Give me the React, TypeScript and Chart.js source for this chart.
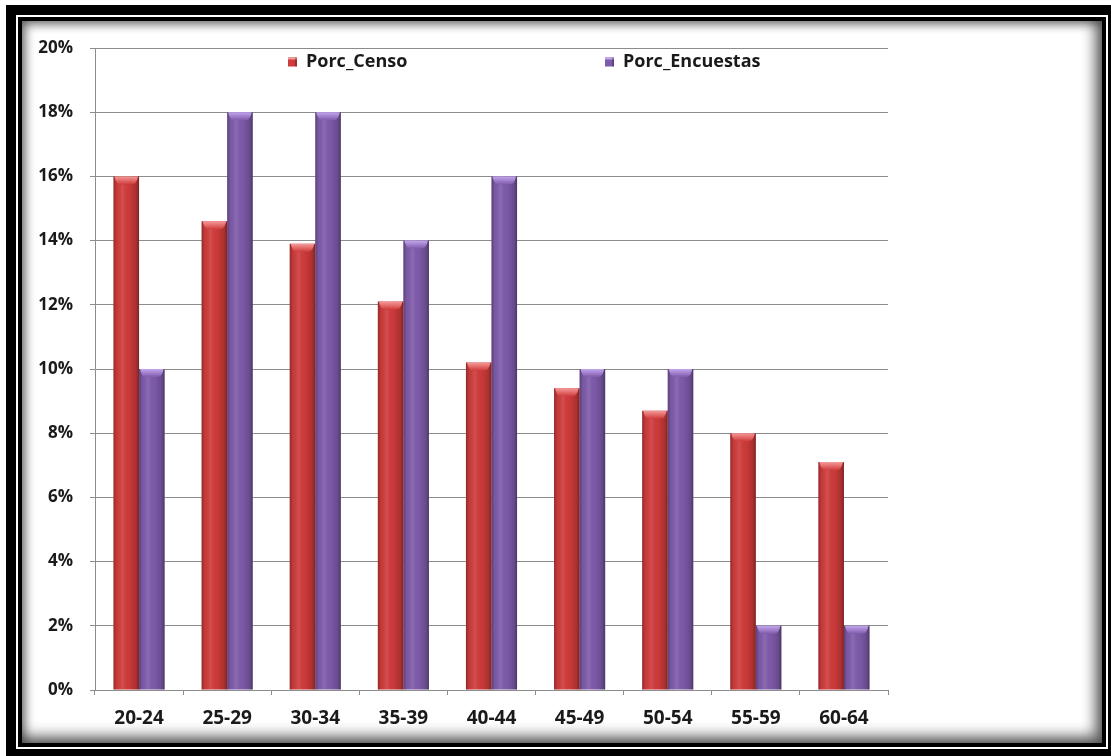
import React, { useEffect, useRef } from "react";
import { Chart, registerables } from "chart.js";

Chart.register(...registerables);

const categories = ["20-24", "25-29", "30-34", "35-39", "40-44", "45-49", "50-54", "55-59", "60-64"];
const porcCenso = [16.0, 14.6, 13.9, 12.1, 10.2, 9.4, 8.7, 8.0, 7.1];
const porcEncuestas = [10, 18, 18, 14, 16, 10, 10, 2, 2];
const seriesNames = ["Porc_Censo", "Porc_Encuestas"];
const seriesColors = ["#d03b3b", "#7f5bab"];
const seriesCapColors = ["#f59a9a", "#c3a6ee"];
const yMin = 0;
const yMax = 20;
const yStep = 2;

const FONT = "'Open Sans', 'Noto Sans', sans-serif";

const barShade = {
  id: "barShade",
  afterDatasetDraw(chart: any, args: any) {
    const ctx = chart.ctx as CanvasRenderingContext2D;
    const meta = args.meta;
    const ci = args.index;
    ctx.save();
    meta.data.forEach((el: any) => {
      const p = el.getProps(["x", "y", "base", "width"], true);
      const w = p.width;
      const left = p.x - w / 2;
      const right = p.x + w / 2;
      const top = Math.min(p.y, p.base);
      const h = Math.abs(p.base - p.y);
      if (h <= 0) return;
      const g = ctx.createLinearGradient(left, 0, right, 0);
      g.addColorStop(0, "rgba(0,0,0,0.30)");
      g.addColorStop(0.12, "rgba(0,0,0,0.05)");
      g.addColorStop(0.35, "rgba(255,255,255,0.10)");
      g.addColorStop(0.6, "rgba(0,0,0,0.02)");
      g.addColorStop(0.88, "rgba(0,0,0,0.18)");
      g.addColorStop(1, "rgba(0,0,0,0.40)");
      ctx.fillStyle = g;
      ctx.fillRect(left, top, w, h);
      const capH = Math.min(8, h);
      const cg = ctx.createLinearGradient(0, top, 0, top + capH);
      cg.addColorStop(0, seriesCapColors[ci]);
      cg.addColorStop(1, seriesColors[ci]);
      ctx.fillStyle = cg;
      ctx.beginPath();
      ctx.moveTo(left + 1, top);
      ctx.lineTo(right - 1, top);
      ctx.quadraticCurveTo(right - w * 0.1, top + capH, right - w * 0.28, top + capH);
      ctx.lineTo(left + w * 0.28, top + capH);
      ctx.quadraticCurveTo(left + w * 0.1, top + capH, left + 1, top);
      ctx.closePath();
      ctx.fill();
    });
    ctx.restore();
  },
};

const customLegend = {
  id: "customLegend",
  afterDraw(chart: any) {
    const ctx = chart.ctx as CanvasRenderingContext2D;
    const area = chart.chartArea;
    const offsets = [193, 510];
    const cy = area.top + 14;
    ctx.save();
    ctx.font = `bold 18px ${FONT}`;
    ctx.textBaseline = "middle";
    ctx.textAlign = "left";
    seriesNames.forEach((name, i) => {
      const mx = area.left + offsets[i];
      ctx.fillStyle = seriesColors[i];
      ctx.fillRect(mx, cy - 4.5, 9, 9);
      ctx.fillStyle = seriesCapColors[i];
      ctx.fillRect(mx, cy - 4.5, 9, 2);
      ctx.fillStyle = "rgba(0,0,0,0.25)";
      ctx.fillRect(mx + 7, cy - 4.5, 2, 9);
      ctx.fillStyle = "#1a1a1a";
      ctx.fillText(name, mx + 18, cy);
    });
    ctx.restore();
  },
};

function ChartCanvas() {
  const ref = useRef<HTMLCanvasElement | null>(null);
  useEffect(() => {
    if (!ref.current) return;
    const chart = new Chart(ref.current, {
      type: "bar",
      data: {
        labels: categories,
        datasets: [
          {
            label: seriesNames[0],
            data: porcCenso,
            backgroundColor: seriesColors[0],
            barPercentage: 1,
            categoryPercentage: 0.58,
          },
          {
            label: seriesNames[1],
            data: porcEncuestas,
            backgroundColor: seriesColors[1],
            barPercentage: 1,
            categoryPercentage: 0.58,
          },
        ],
      },
      options: {
        responsive: false,
        animation: false,
        layout: { padding: { left: 0, top: 48, right: 223, bottom: 0 } },
        plugins: {
          legend: { display: false },
          tooltip: { enabled: false },
        },
        scales: {
          x: {
            grid: {
              display: true,
              drawOnChartArea: false,
              drawTicks: true,
              tickLength: 5,
              color: "#8c8c8c",
              offset: true,
            },
            border: { display: true, color: "#8c8c8c", width: 1 },
            ticks: {
              color: "#1a1a1a",
              font: { family: FONT, size: 19, weight: "bold" },
              padding: 12,
              maxRotation: 0,
            },
            afterFit: (scale: any) => {
              scale.height = 66;
            },
          },
          y: {
            min: yMin,
            max: yMax,
            grid: {
              color: "#8c8c8c",
              lineWidth: 1,
              tickLength: 5,
              drawTicks: true,
            },
            border: { display: true, color: "#8c8c8c", width: 1 },
            ticks: {
              stepSize: yStep,
              color: "#1a1a1a",
              font: { family: FONT, size: 17, weight: "bold" },
              padding: 17,
              callback: (v: any) => `${v}%`,
            },
            afterFit: (scale: any) => {
              scale.width = 95;
            },
          },
        },
      },
      plugins: [barShade, customLegend],
    } as any);
    return () => chart.destroy();
  }, []);
  return (
    <canvas
      ref={ref}
      width={1111}
      height={756}
      style={{ position: "absolute", left: 0, top: 0, width: 1111, height: 756 }}
    />
  );
}

export default function App() {
  return (
    <div
      style={{
        position: "fixed",
        left: 0,
        top: 0,
        width: 1111,
        height: 756,
        background: "#ffffff",
        overflow: "hidden",
      }}
    >
      <div style={{ position: "absolute", left: 6, top: 5, width: 1105, height: 751, background: "#000" }} />
      <div style={{ position: "absolute", left: 16, top: 15, width: 1092, height: 734, background: "#fff" }} />
      <div style={{ position: "absolute", left: 18, top: 17, width: 1088, height: 730, background: "#000" }} />
      <div
        style={{
          position: "absolute",
          left: 22,
          top: 21,
          width: 1080,
          height: 722,
          background: "#fff",
          boxShadow: "inset -4px -4px 14px 3px rgba(0,0,0,0.6), inset 2px 2px 10px 1px rgba(0,0,0,0.35)",
        }}
      />
      <ChartCanvas />
    </div>
  );
}
